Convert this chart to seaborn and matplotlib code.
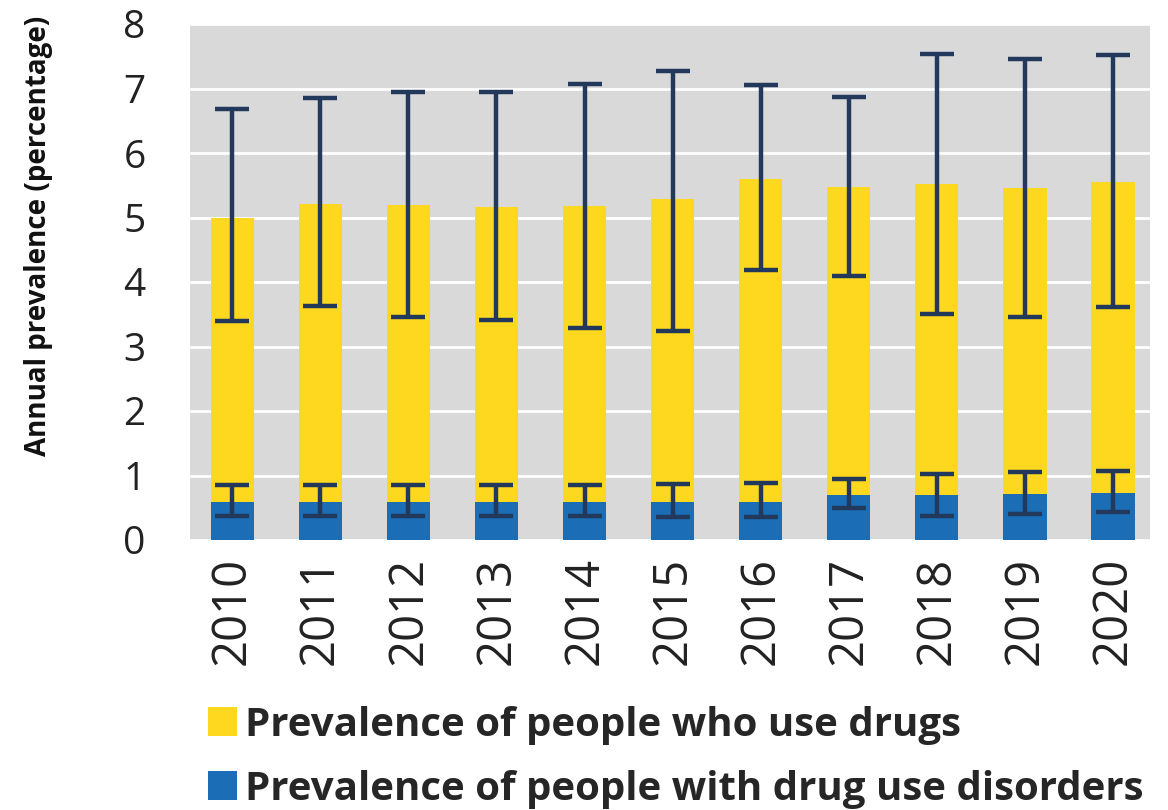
import numpy as np
import pandas as pd
import matplotlib
matplotlib.use('Agg')
import matplotlib.pyplot as plt
import seaborn as sns

# data
years = ['2010', '2011', '2012', '2013', '2014', '2015',
         '2016', '2017', '2018', '2019', '2020']
use_drugs = [5.0, 5.21, 5.19, 5.17, 5.18, 5.28, 5.6, 5.47, 5.52, 5.46, 5.55]
use_low = [3.4, 3.63, 3.45, 3.41, 3.28, 3.24, 4.18, 4.09, 3.5, 3.46, 3.61]
use_high = [6.68, 6.85, 6.94, 6.94, 7.07, 7.27, 7.05, 6.87, 7.53, 7.46, 7.52]

disorders = [0.59, 0.59, 0.59, 0.59, 0.59, 0.59, 0.59, 0.69, 0.69, 0.72, 0.73]
dis_low = [0.37, 0.37, 0.37, 0.37, 0.37, 0.35, 0.35, 0.49, 0.37, 0.4, 0.43]
dis_high = [0.86, 0.86, 0.86, 0.86, 0.86, 0.87, 0.88, 0.95, 1.02, 1.06, 1.07]

yticks = list(range(0, 9))

label_use = 'Prevalence of people who use drugs'
label_dis = 'Prevalence of people with drug use disorders'

YELLOW = '#FDD81E'
BLUE = '#1B6EB6'
ERR = '#22395C'

df = pd.DataFrame({'year': years, 'use': use_drugs, 'dis': disorders})

sns.set_style('white')
plt.rcParams['font.family'] = ['Open Sans', 'DejaVu Sans']

fig = plt.figure(figsize=(11.68, 8.1), dpi=100)
ax = fig.add_axes([190 / 1168, 1 - 540 / 810, 960 / 1168, 516 / 810])
ax.set_facecolor('#D9D9D9')

sns.barplot(data=df, x='year', y='use', color=YELLOW, width=0.49, linewidth=0,
            saturation=1, label=label_use, ax=ax, zorder=2)
sns.barplot(data=df, x='year', y='dis', color=BLUE, width=0.49, linewidth=0,
            saturation=1, label=label_dis, ax=ax, zorder=3)

xs = np.arange(len(years))
use_arr = np.array(use_drugs)
dis_arr = np.array(disorders)
ax.errorbar(xs, use_arr, yerr=[use_arr - np.array(use_low), np.array(use_high) - use_arr],
            fmt='none', ecolor=ERR, elinewidth=3.2, capsize=12, capthick=3.2, zorder=4)
ax.errorbar(xs, dis_arr, yerr=[dis_arr - np.array(dis_low), np.array(dis_high) - dis_arr],
            fmt='none', ecolor=ERR, elinewidth=3.2, capsize=12, capthick=3.2, zorder=4)

ax.set_ylim(0, 8)
ax.set_xlim(-0.48, 10.42)
ax.set_yticks(yticks)
ax.set_yticklabels([str(t) for t in yticks], fontsize=28, color='#222222')
ax.yaxis.grid(True, color='white', linewidth=2, zorder=0)
ax.set_axisbelow(True)
for s in ax.spines.values():
    s.set_visible(False)
ax.tick_params(axis='y', length=0, pad=32)
ax.tick_params(axis='x', length=0, pad=12)
plt.setp(ax.get_xticklabels(), rotation=90, fontsize=34, color='#222222')
ax.set_xlabel('')
ax.set_ylabel('Annual prevalence (percentage)', fontsize=20, fontweight='bold',
              color='#111111')
ax.yaxis.set_label_coords(-137 / 960, 0.59)

handles, labels = ax.get_legend_handles_labels()
ax.legend(handles, labels, loc='upper left', bbox_to_anchor=(0.002, -0.29),
          frameon=False, handlelength=0.72, handleheight=0.75, handletextpad=0.2,
          labelspacing=0.62, borderaxespad=0,
          prop={'weight': 'bold', 'size': 29})

fig.savefig('out.png', dpi=100)
